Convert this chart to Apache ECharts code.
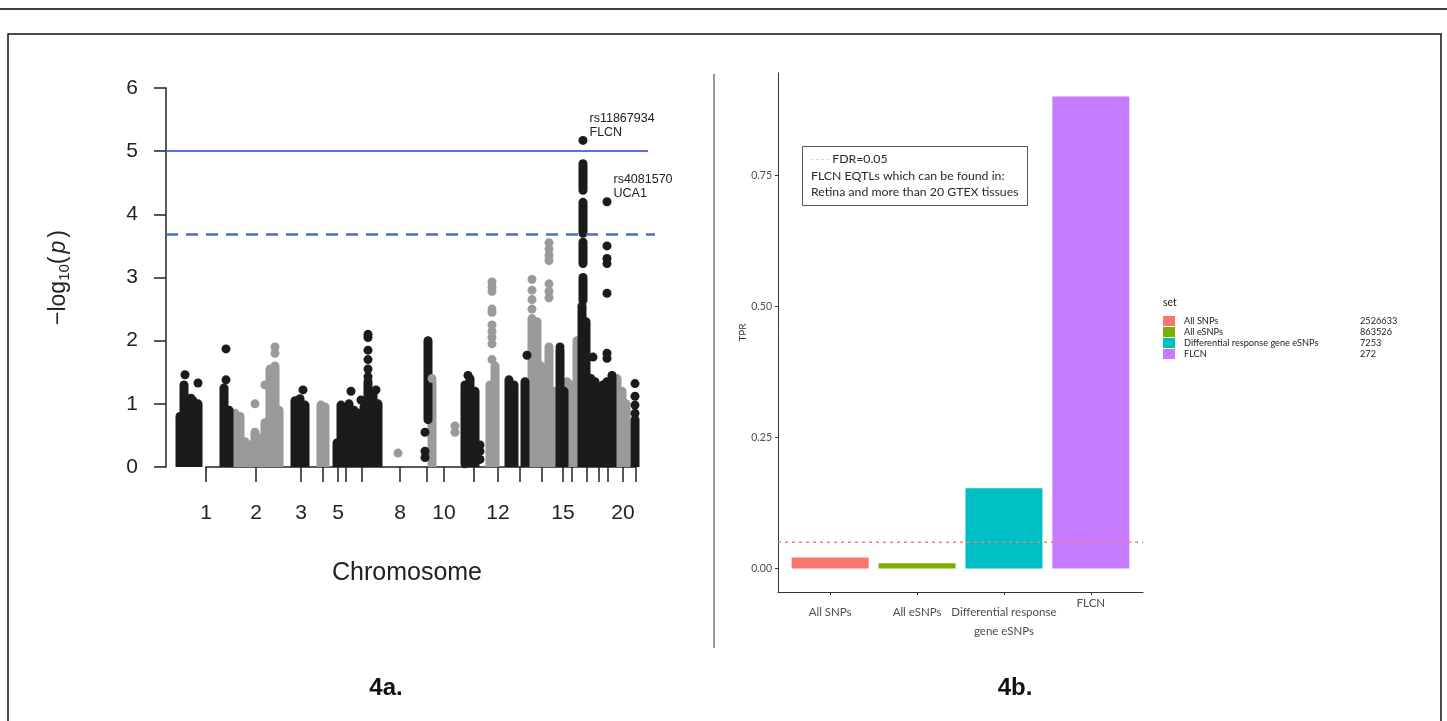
<!DOCTYPE html>
<html>
<head>
<meta charset="utf-8">
<script src="https://cdn.jsdelivr.net/npm/echarts@6.0.0/dist/echarts.min.js"></script>
<style>
	html, body { margin: 0; padding: 0; background: #fff; }
	#fig { width: 1447px; height: 721px; }
</style>
</head>
<body>
<div id="fig"></div>
<script>
// ---- 4a: manhattan plot (position = cumulative genome bin) ----
var chrTickPos = [40, 90, 135, 157, 172, 180, 196, 234, 261, 278, 308, 332, 354, 376, 397, 406, 421, 433, 442, 457, 470];
var chrLabelled = [1, 2, 3, 5, 8, 10, 12, 15, 20];

// dense stacks of SNPs: [position, lowest -log10p, highest -log10p]
var blackRuns = [
	[14, 0, 0.8], [18, 0, 1.3], [23, 0, 1.0], [27, 0, 1.05], [32, 0, 1.0],
	[58, 0, 1.25], [63, 0, 0.9],
	[129, 0, 1.05], [134, 0, 1.08], [139, 0, 0.98],
	[171, 0, 0.38], [175, 0, 0.98],
	[183, 0, 1.0], [188, 0, 0.9], [193, 0, 0.85], [198, 0, 0.95], [202, 0, 1.35], [207, 0, 1.15], [212, 0, 1.0],
	[262, 0.75, 2.0],
	[299, 0.05, 1.3], [304, 0, 1.4], [309, 0, 1.2],
	[343, 0, 1.38], [348, 0, 1.3],
	[359, 0, 1.35],
	[394, 0, 1.85], [398, 0, 1.2],
	[416, 0, 2.55], [420, 0, 2.3], [417, 2.64, 3.0], [417, 3.22, 3.56], [417, 3.7, 4.19], [417, 4.38, 4.8],
	[425, 0, 1.4], [429, 0, 1.35],
	[437, 0, 1.3], [441, 0, 1.35], [446, 0, 1.45],
	[469, 0, 0.75]
];
var grayRuns = [
	[69, 0, 0.85], [74, 0, 0.8], [79, 0, 0.4], [84, 0, 0.35], [89, 0, 0.55], [94, 0, 0.45],
	[99, 0, 0.7], [104, 0, 1.55], [109, 0, 1.6], [113, 0, 0.9],
	[155, 0, 0.98], [159, 0, 0.95],
	[266, 0, 1.35],
	[324, 0, 1.3], [329, 0, 1.6],
	[366, 0, 2.35], [371, 0, 2.3], [375, 0, 1.6], [379, 0, 1.3], [383, 0, 1.9], [387, 0, 1.2],
	[401, 0, 1.35], [406, 0, 1.3], [411, 0, 2.0],
	[451, 0, 1.4], [456, 0, 1.2], [460, 0, 1.0]
];
// single SNPs standing out of the stacks: [position, -log10p]
var blackDots = [
	[19, 1.46], [32, 1.33], [25, 1.09],
	[60, 1.87], [60, 1.38],
	[137, 1.22],
	[185, 1.2], [195, 1.06], [202, 1.43], [202, 1.55], [202, 1.7], [202, 1.85], [202, 2.05], [202, 2.1], [210, 1.22],
	[259, 0.55], [259, 0.25], [259, 0.15],
	[302, 1.45], [314, 0.35], [314, 0.25], [314, 0.12],
	[361, 1.77],
	[394, 1.9],
	[427, 1.74],
	[441, 3.5], [441, 3.3], [441, 3.22], [441, 2.75], [441, 1.8], [441, 1.72],
	[469, 1.32], [469, 1.12], [469, 0.98], [469, 0.85]
];
var grayDots = [
	[89, 1.0], [99, 1.3], [109, 1.8], [109, 1.9],
	[232, 0.22],
	[266, 1.4],
	[289, 0.55], [289, 0.65],
	[326, 2.93], [326, 2.85], [326, 2.78], [326, 2.5], [326, 2.45], [326, 2.25], [326, 2.15], [326, 2.05], [326, 1.95], [326, 1.7],
	[366, 2.5], [366, 2.65], [366, 2.8], [366, 2.97],
	[383, 2.68], [383, 2.78], [383, 2.9], [383, 3.27], [383, 3.35], [383, 3.45], [383, 3.55]
];
var hitSnps = [
	[417, 5.17, 'rs11867934', 'FLCN'],
	[441, 4.2, 'rs4081570', 'UCA1']
];
var genomeWide = 5;
var suggestive = 3.68;

// ---- 4b: TPR per SNP set ----
var setNames = ['All SNPs', 'All eSNPs', 'Differential response gene eSNPs', 'FLCN'];
var setLabels = ['All SNPs', 'All eSNPs', 'Differential response\ngene eSNPs', 'FLCN'];
var setTPR = [0.021, 0.010, 0.153, 0.90];
var setCounts = [2526633, 863526, 7253, 272];
var setColors = ['#F8766D', '#7CAE00', '#00BFC4', '#C77CFF'];
var tprTicks = [0, 0.25, 0.5, 0.75];
var fdrLevel = 0.05;

var BLACK = '#1b1b1b';
var GRAY = '#9a9a9a';
var DOT = 9;

function runItem(params, api) {
	var x = api.value(0), lo = api.value(1), hi = api.value(2);
	var pLo = api.coord([x, lo]);
	var pHi = api.coord([x, hi]);
	var r = DOT / 2;
	var bottom = lo > 0 ? pLo[1] + r : pLo[1];
	var top = pHi[1] - r;
	return {
		type: 'rect',
		shape: { x: pLo[0] - r, y: top, width: DOT, height: bottom - top, r: lo > 0 ? r : [r, r, 0, 0] },
		style: { fill: api.visual('color') }
	};
}

function legendText(name) {
	var i = setNames.indexOf(name);
	return '{n|' + name + '}{c|' + setCounts[i] + '}';
}

function setLabel(v) {
	var i = Math.round(v) - 1;
	var parts = setLabels[i].split('\n');
	if (parts.length > 1) {
		return '{p|' + parts[0] + '}\n{q|' + parts[1] + '}';
	}
	return (setLabels[i] === 'FLCN' ? '{f|' : '{p|') + parts[0] + '}';
}

var series = [
	{ type: 'custom', name: 'gray', xAxisIndex: 0, yAxisIndex: 0, renderItem: runItem,
	  encode: { x: 0, y: [1, 2] }, itemStyle: { color: GRAY }, data: grayRuns, silent: true },
	{ type: 'scatter', xAxisIndex: 0, yAxisIndex: 0, symbolSize: DOT,
	  itemStyle: { color: GRAY, opacity: 1 }, data: grayDots, silent: true },
	{ type: 'custom', name: 'black', xAxisIndex: 0, yAxisIndex: 0, renderItem: runItem,
	  encode: { x: 0, y: [1, 2] }, itemStyle: { color: BLACK }, data: blackRuns, silent: true },
	{ type: 'scatter', xAxisIndex: 0, yAxisIndex: 0, symbolSize: DOT,
	  itemStyle: { color: BLACK, opacity: 1 }, data: blackDots, silent: true },
	{ type: 'scatter', xAxisIndex: 0, yAxisIndex: 0, symbolSize: DOT,
	  itemStyle: { color: BLACK, opacity: 1 }, data: hitSnps, silent: true,
	  label: {
		show: true, position: 'right', distance: 2, offset: [0, -15],
		fontFamily: 'Liberation Sans', fontSize: 12.5, lineHeight: 14, color: '#222',
		formatter: function(p) { return p.value[2] + '\n' + p.value[3]; }
	  },
	  markLine: {
		silent: true, symbol: 'none', label: { show: false },
		data: [
			[{ coord: [0, genomeWide], lineStyle: { color: '#5a6cf0', width: 2, type: 'solid' } },
			 { coord: [482, genomeWide] }],
			[{ coord: [0, suggestive], lineStyle: { color: '#4a74b4', width: 2.5, type: [12, 8] } },
			 { coord: [489, suggestive] }]
		]
	  }
	}
];

setNames.forEach(function(n, i) {
	series.push({
		type: 'bar', name: n, xAxisIndex: 2, yAxisIndex: 2,
		barWidth: 77, barGap: '-100%',
		itemStyle: { color: setColors[i] },
		data: [[i + 1, setTPR[i]]]
	});
});
series.push({
	type: 'line', name: 'FDR', xAxisIndex: 2, yAxisIndex: 2, symbol: 'none', z: 5,
	lineStyle: { color: '#ef7f80', width: 1.5, type: [3, 4] },
	data: [[0.4, fdrLevel], [4.6, fdrLevel]]
});

var option = {
	animation: false,
	backgroundColor: '#fff',
	textStyle: { fontFamily: 'Liberation Sans' },
	grid: [
		{ left: 166, top: 88, width: 489, height: 379, outerBoundsMode: 'none' },
		{ left: 206, top: 88, width: 430, height: 379, outerBoundsMode: 'none' },
		{ left: 778, top: 73, width: 365, height: 519, outerBoundsMode: 'none' }
	],
	xAxis: [
		{ gridIndex: 0, type: 'value', min: 0, max: 489, show: false },
		{ gridIndex: 1, type: 'value', min: 40, max: 470,
		  axisLine: { show: true, onZero: false, lineStyle: { color: '#222', width: 1.5 } },
		  axisTick: { show: true, length: 15, customValues: chrTickPos, lineStyle: { color: '#222', width: 1.5 } },
		  axisLabel: {
			customValues: chrLabelled.map(function(c) { return chrTickPos[c - 1]; }),
			formatter: function(v) { return String(chrTickPos.indexOf(v) + 1); },
			fontSize: 21, color: '#222', margin: 36
		  },
		  splitLine: { show: false },
		  name: 'Chromosome', nameLocation: 'middle', nameGap: 94,
		  nameTextStyle: { fontSize: 25, color: '#222', padding: [0, 28, 0, 0] }
		},
		{ gridIndex: 2, type: 'value', min: 0.4, max: 4.6,
		  axisLine: { show: true, onZero: false, lineStyle: { color: '#333', width: 1 } },
		  axisTick: { show: true, length: 3, customValues: [1, 2, 3, 4], lineStyle: { color: '#333' } },
		  axisLabel: {
			customValues: [1, 2, 3, 4], formatter: setLabel, margin: 3,
			fontFamily: 'Lato', color: '#4d4d4d',
			rich: {
				p: { fontFamily: 'Lato', fontSize: 11.5, color: '#4d4d4d', lineHeight: 34 },
				q: { fontFamily: 'Lato', fontSize: 11.5, color: '#4d4d4d', lineHeight: 4 },
				f: { fontFamily: 'Lato', fontSize: 11.5, color: '#4d4d4d', lineHeight: 16 }
			}
		  },
		  splitLine: { show: false }
		}
	],
	yAxis: [
		{ gridIndex: 0, type: 'value', min: 0, max: 6, interval: 1,
		  axisLine: { show: true, lineStyle: { color: '#222', width: 1.5 } },
		  axisTick: { show: true, length: 12, lineStyle: { color: '#222', width: 1.5 } },
		  axisLabel: { fontSize: 21, color: '#222', margin: 28 },
		  splitLine: { show: false },
		  name: '{t|\u2212log}{s|10}{t|(}{i|p}{t|)}', nameLocation: 'middle', nameGap: 94, nameRotate: 90,
		  nameTextStyle: {
			rich: {
				t: { fontSize: 23, color: '#222', fontFamily: 'Liberation Sans' },
				s: { fontSize: 15, color: '#222', fontFamily: 'Liberation Sans', padding: [12, 0, 0, 0] },
				i: { fontSize: 23, color: '#222', fontFamily: 'Liberation Sans', fontStyle: 'italic', padding: [0, 3, 0, 3] }
			}
		  }
		},
		{ gridIndex: 1, type: 'value', min: 0, max: 6, show: false },
		{ gridIndex: 2, type: 'value', min: -0.045, max: 0.945,
		  axisLine: { show: true, onZero: false, lineStyle: { color: '#333', width: 1 } },
		  axisTick: { show: true, length: 3, customValues: tprTicks, lineStyle: { color: '#333' } },
		  axisLabel: { customValues: tprTicks, formatter: function(v) { return v.toFixed(2); },
			fontFamily: 'Lato', fontSize: 10.5, color: '#4d4d4d', margin: 6 },
		  splitLine: { show: false },
		  name: 'TPR', nameLocation: 'middle', nameGap: 18,
		  nameTextStyle: { fontFamily: 'Lato', fontSize: 10, color: '#333' }
		}
	],
	title: [
		{ text: 'set', left: 1163, top: 297, padding: 0,
		  textStyle: { fontFamily: 'Lato', fontSize: 10.5, fontWeight: 'normal', color: '#222' } },
		{ text: '{d|- - - -} FDR=' + fdrLevel.toFixed(2) + '\nFLCN EQTLs which can be found in:\nRetina and more than 20 GTEX tissues',
		  left: 802, top: 146, padding: [5, 9], borderColor: '#555', borderWidth: 1,
		  textStyle: { fontFamily: 'Lato', fontSize: 12.3, lineHeight: 16.5, fontWeight: 'normal', color: '#2a2a2a',
			rich: { d: { fontFamily: 'Lato', fontSize: 8, color: '#ef7f80' } } } }
	],
	legend: {
		data: setNames, left: 1163, top: 316, orient: 'vertical', padding: 0,
		itemWidth: 12, itemHeight: 10, itemGap: 1, icon: 'rect', selectedMode: false,
		formatter: legendText,
		textStyle: {
			fontFamily: 'Lato', fontSize: 9.2, color: '#222',
			rich: {
				n: { fontFamily: 'Lato', fontSize: 9.2, color: '#222', width: 176, padding: [0, 0, 0, 4] },
				c: { fontFamily: 'Lato', fontSize: 9.2, color: '#222' }
			}
		}
	},
	graphic: [
		{ type: 'line', shape: { x1: 0, y1: 9, x2: 1447, y2: 9 }, style: { stroke: '#000', lineWidth: 1.5 } },
		{ type: 'rect', shape: { x: 8, y: 34, width: 1433, height: 720 }, style: { stroke: '#111', lineWidth: 1.5, fill: 'transparent' } },
		{ type: 'line', shape: { x1: 714, y1: 74, x2: 714, y2: 648 }, style: { stroke: '#333', lineWidth: 1 } },
		{ type: 'text', x: 386, y: 688, style: { text: '4a.', font: 'bold 24px "Liberation Sans"', fill: '#111', align: 'center', verticalAlign: 'middle' } },
		{ type: 'text', x: 1015, y: 688, style: { text: '4b.', font: 'bold 24px "Liberation Sans"', fill: '#111', align: 'center', verticalAlign: 'middle' } }
	],
	series: series
};

var chart = echarts.init(document.getElementById('fig'));
chart.setOption(option);
</script>
</body>
</html>
